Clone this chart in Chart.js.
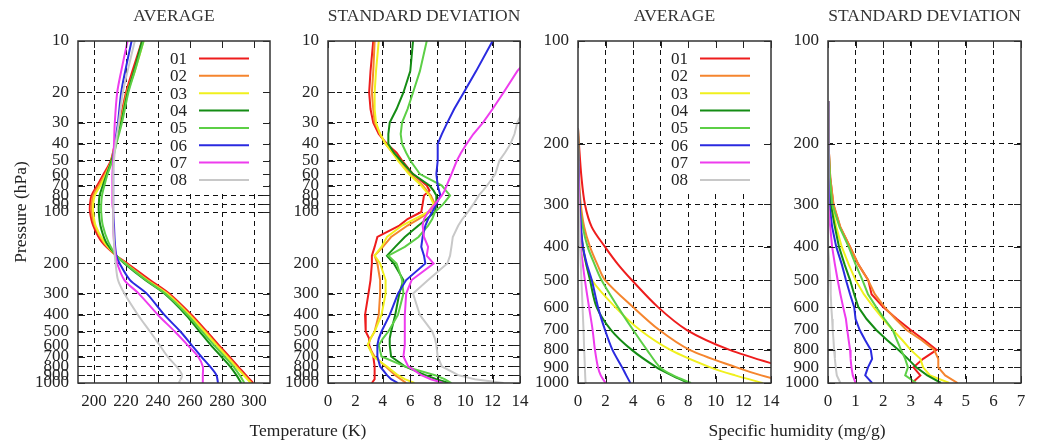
<!DOCTYPE html>
<html><head><meta charset="utf-8">
<script src="https://cdn.jsdelivr.net/npm/chart.js@4.4.1/dist/chart.umd.min.js"></script>
<style>
html,body{margin:0;padding:0;background:#fff;width:1039px;height:440px;overflow:hidden;}
.layer{position:absolute;left:0;top:0;width:1039px;height:440px;}
.xt{position:absolute;font-family:"Liberation Serif","Times New Roman",serif;font-size:17.5px;color:#222;white-space:nowrap;transform:translate(-50%,-50%);}
</style></head><body>
<div class="layer"><canvas id="c1" width="1039" height="440"></canvas></div>
<div class="layer"><canvas id="c2" width="1039" height="440"></canvas></div>
<div class="layer"><canvas id="c3" width="1039" height="440"></canvas></div>
<div class="layer"><canvas id="c4" width="1039" height="440"></canvas></div>
<div class="xt" id="xt1" style="left:308px;top:430px"></div>
<div class="xt" id="xt2" style="left:797px;top:430px"></div>
<script>
// ---------------- data ----------------
const SERIES = ['01','02','03','04','05','06','07','08'];
const PANEL_TITLES = ['AVERAGE','STANDARD DEVIATION','AVERAGE','STANDARD DEVIATION'];
const Y_TITLE = 'Pressure (hPa)';
const X_TITLES = ['Temperature (K)','Specific humidity (mg/g)'];

// tick labels
const TICKS_P_FULL = [10,20,30,40,50,60,70,80,90,100,200,300,400,500,600,700,800,900,1000];
const TICKS_P_LOW = [100,200,300,400,500,600,700,800,900,1000];
const TICKS_T_AVG = [200,220,240,260,280,300];
const TICKS_T_STD = [0,2,4,6,8,10,12,14];
const TICKS_Q_AVG = [0,2,4,6,8,10,12,14];
const TICKS_Q_STD = [0,1,2,3,4,5,6,7];

// Temperature average (K)
const P_TAVG = [10,15,20,30,40,50,60,70,80,90,100,120,150,180,200,250,300,400,500,600,700,800,900,1000];
const TAVG = [
  [230,224,220,216,213,210.5,206,202,198.5,197.5,197.5,199.5,205,214,221,235,247,261,270.5,278,284.5,290,295,299.5],
  [230.5,225,220.5,216.5,213,211,207,203,199.5,198.5,198.5,200.5,206,214,220,233.5,246,260,269.5,277,283.5,289,294,298.5],
  [231,225.5,221,217,213.5,211,207.5,204,200.5,199.5,199.5,201,206.5,214,219.5,233,245.5,259.5,269,276.5,283,288.5,293.5,298],
  [230,225,221,217,213.5,211,208,205.5,203.5,203,203,204,207.5,214,219,232,244,257.5,266,273,279.5,285,289,292],
  [231,225.5,221.5,217.5,214,211.5,208.5,206.5,205,204.5,204.5,205.5,209,214,219.5,232.5,244.5,258.5,267.5,275,281.5,287,291,294],
  [223.5,219.5,217,215,213,212,212,212,212,212,212,212.5,213,214,216,222.5,233,244,254,261,267,272.5,276.5,277.5],
  [221,217,214.5,213,212.5,212,211.5,211.5,211.5,211.5,212,212,212.5,213.5,214.5,219,228,240,250.5,258.5,265,268,268,268],
  [225.5,221,218,215.5,213.5,212.5,212,212,212,212,212,212,212.5,213,213.5,215,219,227.5,235,241,246,251.5,255,253]
];

// Temperature standard deviation (K)
const P_TSTD = [10,15,20,25,30,35,40,45,50,60,70,75,80,90,100,110,120,140,160,180,200,250,300,400,500,550,600,700,800,900,950,1000];
const TSTD = [
  [3.3,3.1,3.0,3.1,3.3,3.7,4.3,5.0,5.4,6.2,7.2,7.4,7.0,6.9,6.8,5.8,5.2,3.6,3.4,3.2,3.2,3.1,2.95,2.7,2.75,3.0,3.0,3.3,3.4,3.4,3.4,3.2],
  [3.4,3.3,3.2,3.3,3.4,3.8,4.2,4.7,5.2,6.0,6.9,7.2,7.5,7.8,7.4,6.6,5.8,4.6,4.0,3.4,3.6,3.8,3.8,3.7,3.4,3.1,2.9,3.4,4.2,4.9,5.3,5.7],
  [3.7,3.5,3.4,3.4,3.5,3.8,4.2,4.7,5.1,5.9,6.8,7.1,7.4,7.7,7.3,6.3,5.4,4.3,3.9,3.4,3.8,4.2,4.2,3.9,3.4,3.1,2.9,3.3,4.3,5.1,5.6,6.3],
  [6.2,6.0,5.5,5.0,4.5,4.4,4.4,4.8,5.3,6.2,7.4,7.7,7.9,7.9,7.8,7.2,6.6,5.6,4.9,4.3,4.8,5.5,5.2,4.9,4.6,4.5,4.5,4.6,5.6,7.1,7.9,8.8],
  [7.2,6.7,6.2,5.8,5.4,5.3,5.4,5.7,6.0,6.7,8.3,8.6,8.9,8.4,7.8,7.6,7.3,6.6,5.6,4.4,5.0,5.4,5.5,5.1,4.4,4.0,3.7,3.9,5.6,7.8,8.5,9.0],
  [12.0,10.8,9.9,9.2,8.7,8.3,8.0,8.0,8.0,7.9,8.0,8.1,8.2,7.9,7.6,7.3,7.1,6.9,6.8,7.0,7.1,5.7,5.1,4.5,3.9,3.7,3.6,3.6,3.8,4.3,4.6,5.1],
  [15.8,13.8,12.8,12.0,11.3,10.6,10.1,9.7,9.4,9.0,8.65,8.5,8.3,7.8,7.3,7.0,6.9,7.0,7.3,7.2,7.7,6.1,5.7,5.6,5.6,5.6,5.6,5.5,5.85,6.8,7.5,8.4],
  [19.0,17.0,15.4,14.3,13.8,13.6,13.3,12.9,12.5,12.2,11.6,11.3,11.0,10.6,10.2,9.8,9.5,9.1,9.0,8.9,8.7,7.3,6.2,6.7,7.6,7.8,7.9,8.0,8.3,9.5,10.7,12.8]
];

// Specific humidity average (mg/g)
const P_QAVG = [180,200,250,300,350,400,450,500,600,700,800,900,950,1000];
const QAVG = [
  [0,0.07,0.25,0.5,1.0,1.96,2.9,3.9,5.8,7.9,11.0,15.0,17.0,19.0],
  [0,0.02,0.08,0.2,0.45,0.87,1.4,1.96,4.0,5.9,8.1,11.5,13.3,15.5],
  [0,0.01,0.03,0.05,0.18,0.35,0.6,1.0,2.7,4.5,6.7,9.6,11.4,13.4],
  [0,0.01,0.03,0.05,0.18,0.35,0.6,0.87,1.35,2.4,3.9,5.7,6.8,8.0],
  [0,0.02,0.06,0.12,0.35,0.7,1.2,1.7,2.9,4.0,5.0,5.95,6.9,8.2],
  [0,0.01,0.05,0.12,0.22,0.36,0.65,1.0,1.45,1.96,2.5,3.2,3.5,3.8],
  [0,0,0.03,0.07,0.13,0.2,0.35,0.5,0.8,1.06,1.23,1.45,1.65,2.0],
  [0,0,0.01,0.05,0.1,0.15,0.2,0.25,0.33,0.4,0.45,0.5,0.52,0.55]
];

// Specific humidity standard deviation (mg/g)
const P_QSTD = [150,200,250,300,350,400,450,500,550,600,650,700,750,800,850,900,950,1000];
const QSTD = [
  [0,0.02,0.08,0.19,0.44,0.8,1.1,1.46,1.58,2.0,2.5,3.0,3.5,3.94,3.45,3.1,3.35,3.05],
  [0,0.02,0.08,0.2,0.45,0.8,1.1,1.45,1.7,2.05,2.45,2.85,3.4,3.85,4.0,4.0,4.25,4.7],
  [0,0.01,0.05,0.12,0.3,0.5,0.75,1.0,1.3,1.65,2.0,2.35,2.7,3.0,3.35,3.45,3.7,4.4],
  [0,0.01,0.04,0.1,0.25,0.4,0.6,0.8,0.95,1.1,1.4,1.75,2.15,2.55,2.9,3.2,3.6,4.1],
  [0,0.02,0.07,0.15,0.42,0.75,1.0,1.25,1.45,1.75,2.05,2.35,2.5,2.65,2.8,2.9,2.8,3.2],
  [0,0.01,0.02,0.05,0.15,0.3,0.5,0.65,0.8,0.95,1.0,1.15,1.35,1.55,1.6,1.45,1.35,1.6],
  [0,0,0.01,0.02,0.08,0.15,0.25,0.35,0.45,0.55,0.65,0.7,0.75,0.8,0.82,0.85,0.9,1.0],
  [0,0,0,0,0.01,0.03,0.05,0.08,0.1,0.12,0.15,0.17,0.2,0.22,0.25,0.28,0.32,0.45]
];

// ---------------- style ----------------
const SERIF = '"Liberation Serif","Times New Roman",serif';
const COLORS = ['#ee1c1c','#f5852e','#f0f01e','#148c14','#5ccf46','#2a2ae0','#ee3cee','#c8c8c8'];
const TEXT = '#222';
const W = 1039;

document.getElementById('xt1').textContent = X_TITLES[0];
document.getElementById('xt2').textContent = X_TITLES[1];

const framePlugin = {
  id: 'frame',
  beforeDatasetsDraw(chart, args, o) {
    if (!o.legend) return;
    const a = chart.chartArea, ctx = chart.ctx;
    ctx.save();
    ctx.fillStyle = '#fff';
    ctx.fillRect(a.right - 108, a.top + 1, 107, 148);
    ctx.restore();
  },
  afterDatasetsDraw(chart, args, o) {
    const a = chart.chartArea, ctx = chart.ctx;
    ctx.save();
    if (o.legend) {
      ctx.font = '17px ' + SERIF;
      ctx.textAlign = 'right';
      ctx.textBaseline = 'middle';
      chart.data.datasets.forEach((ds, i) => {
        const y = a.top + 17.5 + 17.35 * i;
        ctx.fillStyle = TEXT;
        ctx.fillText(ds.label, a.right - 83, y + 1);
        ctx.strokeStyle = ds.borderColor;
        ctx.lineWidth = 2;
        ctx.beginPath();
        ctx.moveTo(a.right - 71, y);
        ctx.lineTo(a.right - 21, y);
        ctx.stroke();
      });
    }
    // inward tick marks
    const xs = chart.scales.x, ys = chart.scales.y;
    ctx.strokeStyle = '#222';
    ctx.lineWidth = 1;
    ctx.beginPath();
    xs.ticks.forEach(t => {
      const x = Math.round(xs.getPixelForValue(t.value)) + 0.5;
      ctx.moveTo(x, a.top); ctx.lineTo(x, a.top + 7);
      ctx.moveTo(x, a.bottom); ctx.lineTo(x, a.bottom - 7);
    });
    ys.ticks.forEach(t => {
      const y = Math.round(ys.getPixelForValue(t.value)) + 0.5;
      ctx.moveTo(a.left, y); ctx.lineTo(a.left + 7, y);
      ctx.moveTo(a.right, y); ctx.lineTo(a.right - 7, y);
    });
    ctx.stroke();
    // border
    ctx.strokeStyle = '#333';
    ctx.lineWidth = 1.5;
    ctx.strokeRect(a.left, a.top, a.right - a.left, a.bottom - a.top);
    // panel title
    ctx.font = '17.5px ' + SERIF;
    ctx.fillStyle = '#333';
    ctx.textAlign = 'center';
    ctx.textBaseline = 'middle';
    ctx.fillText(o.title, (a.left + a.right) / 2, 16);
    ctx.restore();
  }
};

function edgeHidden(min, max) {
  return c => (c.tick && (c.tick.value <= min || c.tick.value >= max)) ? 'rgba(0,0,0,0)' : '#111';
}

function makePanel(id, cfg) {
  const datasets = cfg.values.map((vals, i) => ({
    label: SERIES[i],
    data: cfg.levels.map((p, j) => ({x: vals[j], y: p})),
    borderColor: COLORS[i],
    borderWidth: 2,
    pointRadius: 0,
    tension: cfg.tension,
    fill: false,
    order: -i
  }));
  return new Chart(document.getElementById(id), {
    type: 'line',
    data: {datasets},
    options: {
      responsive: false,
      animation: false,
      devicePixelRatio: 1,
      events: [],
      layout: {padding: {left: cfg.left - cfg.yWidth, right: W - cfg.right, top: 41, bottom: 17}},
      plugins: {
        legend: {display: false},
        tooltip: {enabled: false},
        frame: {legend: cfg.legend, title: cfg.title}
      },
      scales: {
        x: {
          type: 'linear', min: cfg.xMin, max: cfg.xMax,
          afterBuildTicks: s => { s.ticks = cfg.xTicks.map(v => ({value: v})); },
          afterFit: s => { s.height = 40; },
          ticks: {autoSkip: false, maxRotation: 0, padding: 8, color: TEXT,
                  font: {family: SERIF, size: 17}, callback: v => String(v)},
          grid: {color: edgeHidden(cfg.xMin, cfg.xMax), lineWidth: 1, drawTicks: false},
          border: {display: false, dash: [5, 4]}
        },
        y: {
          type: 'logarithmic', reverse: true, min: cfg.yMin, max: cfg.yMax,
          afterBuildTicks: s => { s.ticks = cfg.yTicks.map(v => ({value: v})); },
          afterFit: s => { s.width = cfg.yWidth; },
          ticks: {autoSkip: false, padding: 9, color: TEXT,
                  font: {family: SERIF, size: 17}, callback: v => String(v)},
          grid: {color: edgeHidden(cfg.yMin, cfg.yMax), lineWidth: 1, drawTicks: false},
          border: {display: false, dash: [5, 4]},
          title: cfg.yTitle ? {display: true, text: cfg.yTitle, color: TEXT,
                  font: {family: SERIF, size: 17.5}, padding: {top: 11, bottom: 0}} : {display: false}
        }
      }
    },
    plugins: [framePlugin]
  });
}

makePanel('c1', {left: 78, right: 270, yWidth: 78, levels: P_TAVG, values: TAVG,
  xMin: 190, xMax: 310, xTicks: TICKS_T_AVG, yMin: 10, yMax: 1000, yTicks: TICKS_P_FULL,
  title: PANEL_TITLES[0], legend: true, yTitle: Y_TITLE, tension: 0.3});
makePanel('c2', {left: 328, right: 520, yWidth: 60, levels: P_TSTD, values: TSTD,
  xMin: 0, xMax: 14, xTicks: TICKS_T_STD, yMin: 10, yMax: 1000, yTicks: TICKS_P_FULL,
  title: PANEL_TITLES[1], legend: false, yTitle: null, tension: 0});
makePanel('c3', {left: 578, right: 771, yWidth: 60, levels: P_QAVG, values: QAVG,
  xMin: 0, xMax: 14, xTicks: TICKS_Q_AVG, yMin: 100, yMax: 1000, yTicks: TICKS_P_LOW,
  title: PANEL_TITLES[2], legend: true, yTitle: null, tension: 0.3});
makePanel('c4', {left: 828, right: 1021, yWidth: 60, levels: P_QSTD, values: QSTD,
  xMin: 0, xMax: 7, xTicks: TICKS_Q_STD, yMin: 100, yMax: 1000, yTicks: TICKS_P_LOW,
  title: PANEL_TITLES[3], legend: false, yTitle: null, tension: 0});
</script>
</body></html>
